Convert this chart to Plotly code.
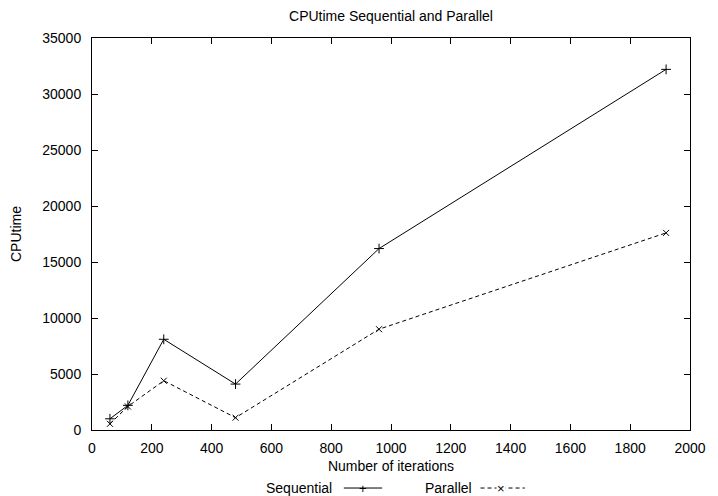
import plotly.graph_objects as go

iterations = [60, 120, 240, 480, 960, 1920]
sequential = [1000, 2200, 8100, 4100, 16200, 32200]
parallel = [550, 2100, 4400, 1100, 9000, 17600]

FONT = "Liberation Sans, Arial, sans-serif"
FS = 14

fig = go.Figure()
fig.add_trace(go.Scatter(
    x=iterations, y=sequential, mode="lines+markers", name="Sequential",
    line=dict(color="black", width=1),
    marker=dict(symbol="cross-thin", size=7, line=dict(color="black", width=1)),
    showlegend=False,
))
fig.add_trace(go.Scatter(
    x=iterations, y=parallel, mode="lines+markers", name="Parallel",
    line=dict(color="black", width=1, dash="4px,3px"),
    marker=dict(symbol="x-thin", size=6, line=dict(color="black", width=1)),
    showlegend=False,
))

axis_common = dict(
    showline=True, linecolor="black", linewidth=1, mirror="ticks",
    ticks="inside", ticklen=6, tickcolor="black", tickwidth=1,
    showgrid=False, zeroline=False, tickformat="d",
    tickfont=dict(family=FONT, size=FS, color="black"),
)

fig.update_xaxes(range=[0, 2000], dtick=200, tick0=0,
                 title=dict(text="Number of iterations", font=dict(family=FONT, size=FS, color="black"), standoff=6),
                 ticklabelstandoff=5, **axis_common)
fig.update_yaxes(range=[0, 35000], dtick=5000, tick0=0,
                 title=dict(text="CPUtime", font=dict(family=FONT, size=FS, color="black"), standoff=17),
                 ticklabelstandoff=7, **axis_common)

LY = -0.148
fig.add_annotation(x=0.4046, y=LY, xref="paper", yref="paper", text="Sequential",
                   showarrow=False, xanchor="right", yanchor="middle",
                   font=dict(family=FONT, size=FS, color="black"))
fig.add_shape(type="line", xref="paper", yref="paper", x0=0.4211, x1=0.4852, y0=LY, y1=LY,
              line=dict(color="black", width=1))
fig.add_annotation(x=0.4539, y=LY, xref="paper", yref="paper", text="+",
                   showarrow=False, xanchor="center", yanchor="middle",
                   font=dict(family=FONT, size=13, color="black"))
fig.add_annotation(x=0.638, y=LY, xref="paper", yref="paper", text="Parallel",
                   showarrow=False, xanchor="right", yanchor="middle",
                   font=dict(family=FONT, size=FS, color="black"))
fig.add_shape(type="line", xref="paper", yref="paper", x0=0.6497, x1=0.7237, y0=LY, y1=LY,
              line=dict(color="black", width=1, dash="4px,3px"))
fig.add_annotation(x=0.6842, y=LY, xref="paper", yref="paper", text="×",
                   showarrow=False, xanchor="center", yanchor="middle", bgcolor="white",
                   borderpad=0,
                   font=dict(family=FONT, size=13, color="black"))

fig.update_layout(
    width=718, height=496,
    margin=dict(l=92, r=18, t=38, b=66),
    paper_bgcolor="white", plot_bgcolor="white",
    title=dict(text="CPUtime Sequential and Parallel", xref="paper", x=0.5, xanchor="center",
               y=1 - 16 / 496, yanchor="middle",
               font=dict(family=FONT, size=FS, color="black")),
    showlegend=False,
)

fig.write_html("out.html")
